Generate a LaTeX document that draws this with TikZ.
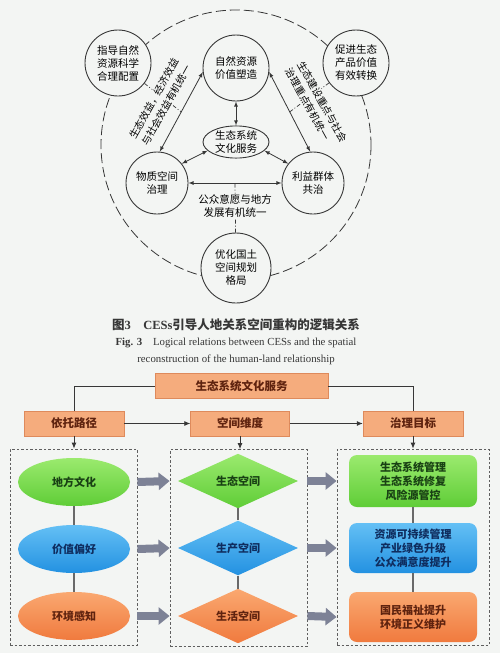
\documentclass[tikz,border=0pt]{standalone}
\usepackage{fontspec}
\setmainfont{Liberation Serif}
\newfontfamily\cjk{Noto Sans CJK SC}
\usepackage{tikz}
\usetikzlibrary{arrows}
\usetikzlibrary{arrows.meta,shapes.geometric}

\definecolor{bg}{RGB}{243,245,243}
\definecolor{ink}{RGB}{55,55,55}
\definecolor{peach}{RGB}{245,172,125}
\definecolor{peachline}{RGB}{222,138,92}
\definecolor{greenA}{RGB}{155,234,110}
\definecolor{greenB}{RGB}{95,205,55}
\definecolor{blueA}{RGB}{100,192,245}
\definecolor{blueB}{RGB}{35,145,225}
\definecolor{orangeA}{RGB}{250,168,112}
\definecolor{orangeB}{RGB}{240,122,62}
\definecolor{fatgray}{RGB}{125,130,150}
\definecolor{tgreen}{RGB}{25,65,20}
\definecolor{tblue}{RGB}{15,45,95}
\definecolor{torange}{RGB}{95,35,15}

\tikzset{
  ring/.style={circle,draw=ink,line width=0.9pt,fill=bg,minimum size=66pt,inner sep=0pt,
    align=center,font=\cjk\fontsize{10.5}{13}\selectfont},
  relarrow/.style={<->,>=latex,draw=ink,line width=0.8pt},
  link/.style={draw=ink,line width=0.7pt,dash pattern=on 4pt off 2pt on 1pt off 2pt},
  rellabel/.style={fill=bg,inner sep=1pt,align=left,font=\cjk\fontsize{10}{14}\selectfont},
  peachbox/.style={draw=peachline,fill=peach,minimum height=25pt,inner sep=0pt,
    text=torange,font=\cjk\bfseries\fontsize{11.5}{13}\selectfont},
  frame/.style={draw=ink!80,line width=0.8pt,dash pattern=on 2.5pt off 2pt,inner sep=0pt},
  flow/.style={draw=ink,line width=0.8pt},
  flowarrow/.style={flow,-{Latex[length=6pt,width=5pt]}},
  oval/.style={ellipse,minimum width=112pt,minimum height=48pt,inner sep=0pt,
    font=\cjk\bfseries\fontsize{11}{14}\selectfont},
  rhomb/.style={diamond,minimum width=120pt,minimum height=52pt,inner sep=0pt,
    font=\cjk\bfseries\fontsize{11}{14}\selectfont},
  tile/.style={rounded corners=8pt,minimum width=128pt,minimum height=50pt,inner sep=0pt,
    align=center,font=\cjk\bfseries\fontsize{11}{14}\selectfont},
  greenfill/.style={top color=greenA,bottom color=greenB,text=tgreen},
  bluefill/.style={top color=blueA,bottom color=blueB,text=tblue},
  orangefill/.style={top color=orangeA,bottom color=orangeB,text=torange},
  stem/.style={draw=ink!75,line width=1.2pt},
  fat/.style={draw=fatgray,line width=8pt,-{Triangle[length=11pt,width=17pt]}}
}

\begin{document}
\begin{tikzpicture}[x=1pt,y=-1pt]
              \fill[bg] (0, 0) rectangle (500, 653);
              \useasboundingbox (0, 0) rectangle (500, 653);

              \draw[draw=ink,line width=0.8pt,dash pattern=on 10pt off 4pt] (236, 145) circle (135);

              \node[ring] (zhidao) at (118, 63) {指导自然\\资源科学\\合理配置};
              \node[ring] (ziran) at (236, 68) {自然资源\\价值塑造};
              \node[ring] (cujin) at (356, 63) {促进生态\\产品价值\\有效转换};
              \node[ring,ellipse,minimum width=66pt,minimum height=30pt] (fuwu) at (236, 142) {生态系统\\文化服务};
              \node[ring,minimum size=62pt] (wuzhi) at (157, 183) {物质空间\\治理};
              \node[ring,minimum size=62pt] (liyi) at (313, 183) {利益群体\\共治};
              \node[ring,minimum size=70pt] (youhua) at (236, 268) {优化国土\\空间规划\\格局};

              \draw[relarrow] (ziran.187) -- coordinate[midway] (mL) (wuzhi.85);
              \draw[relarrow] (ziran.-7) -- coordinate[midway] (mR) (liyi.95);
              \draw[relarrow] (wuzhi) -- coordinate[midway] (mB) (liyi);
              \draw[relarrow] (ziran) -- (fuwu);
              \draw[relarrow] (fuwu.197) -- (wuzhi.38);
              \draw[relarrow] (fuwu.-17) -- (liyi.142);

              \draw[link] (zhidao) -- (mL);
              \draw[link] (cujin) -- (mR);
              \draw[link] (youhua) -- (mB);

              \node[rellabel,rotate=61] (labL) at (160, 102) {生态效益，经济效益\\与社会效益有机统一};
              \node[rellabel,rotate=-61] (labR) at (316, 105) {生态建设重点与社会\\治理重点有机统一};
              \node[rellabel,align=center,font=\cjk\fontsize{10.5}{13}\selectfont] (labB) at (235, 206) {公众意愿与地方\\发展有机统一};

              \node[text=ink] (cap) at (236, 325) {\fontsize{12.5}{15}\selectfont{\cjk\bfseries 图}\textbf{3}\quad\textbf{CESs}{\cjk\bfseries 引导人地关系空间重构的逻辑关系}};
              \node[text=ink,align=center,font=\fontsize{10.8}{17}\selectfont] (capen) at (236, 351) {\textbf{Fig. 3}\quad Logical relations between CESs and the spatial\\reconstruction of the human-land relationship};

              \node[peachbox,minimum width=173pt] (ces) at (241.5, 386) {生态系统文化服务};
              \node[peachbox,minimum width=100pt] (yituo) at (74, 423.5) {依托路径};
              \node[peachbox,minimum width=99pt] (kongjian) at (240, 423.5) {空间维度};
              \node[peachbox,minimum width=100pt] (zhili) at (413, 423.5) {治理目标};

              \node[frame,minimum width=127pt,minimum height=196pt] (lbox) at (73.5, 547) {};
              \node[frame,minimum width=137pt,minimum height=197pt] (mbox) at (238.5, 548) {};
              \node[frame,minimum width=152pt,minimum height=196pt] (rbox) at (413, 547) {};

              \draw[flow] (ces.west) -| (yituo.north);
              \draw[flow] (ces.east) -| (zhili.north);
              \draw[flowarrow] (yituo) -- (kongjian);
              \draw[flowarrow] (kongjian) -- (zhili);
              \draw[flowarrow] (yituo.south) -- (yituo.south |- lbox.north);
              \draw[flowarrow] (kongjian.south) -- (kongjian.south |- mbox.north);
              \draw[flowarrow] (zhili.south) -- (zhili.south |- rbox.north);

              \node[oval,greenfill] (difang) at (74, 482) {地方文化};
              \node[oval,bluefill] (jiazhi) at (74, 549) {价值偏好};
              \node[oval,orangefill] (huanjing) at (74, 616) {环境感知};

              \node[rhomb,greenfill] (stkj) at (238, 481) {生态空间};
              \node[rhomb,bluefill] (sckj) at (238, 548) {生产空间};
              \node[rhomb,orangefill] (shkj) at (238, 616) {生活空间};

              \node[tile,greenfill,minimum height=52pt] (g1) at (413, 481) {生态系统管理\\生态系统修复\\风险源管控};
              \node[tile,bluefill] (g2) at (413, 548) {资源可持续管理\\产业绿色升级\\公众满意度提升};
              \node[tile,orangefill] (g3) at (413, 617) {国民福祉提升\\环境正义维护};

              \draw[stem] (difang) -- (jiazhi);
              \draw[stem] (jiazhi) -- (huanjing);
              \draw[stem] (stkj) -- (sckj);
              \draw[stem] (sckj) -- (shkj);
              \draw[stem] (g1) -- (g2);
              \draw[stem] (g2) -- (g3);

              \draw[fat] (difang -| lbox.east) -- (stkj -| mbox.west);
              \draw[fat] (jiazhi -| lbox.east) -- (sckj -| mbox.west);
              \draw[fat] (huanjing -| lbox.east) -- (shkj -| mbox.west);
              \draw[fat] (stkj -| mbox.east) -- (g1 -| rbox.west);
              \draw[fat] (sckj -| mbox.east) -- (g2 -| rbox.west);
              \draw[fat] (shkj -| mbox.east) -- (g3 -| rbox.west);
            \end{tikzpicture}
\end{document}
